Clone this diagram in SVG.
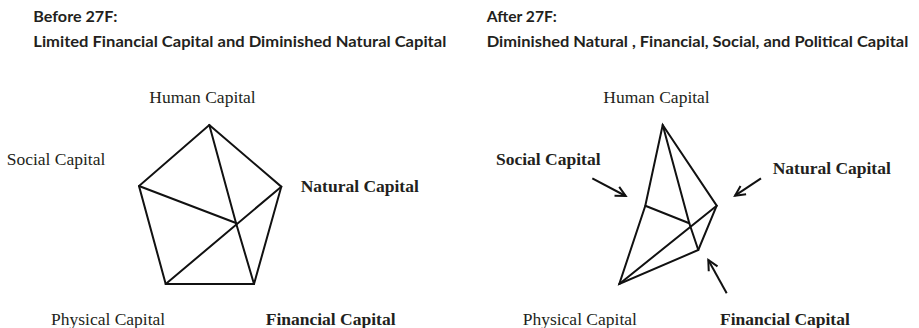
<svg xmlns="http://www.w3.org/2000/svg" width="919" height="328" viewBox="0 0 919 328">
  <style>
    .title { font-family: Lato, "Liberation Sans", sans-serif; font-weight: 700; font-size: 15px; fill: #231f20; }
    .lbl { font-family: "Liberation Serif", "Times New Roman", serif; font-size: 17.5px; fill: #231f20; }
    .b { font-weight: 700; }
    .shape { fill: none; stroke: #111; stroke-width: 2; stroke-linejoin: miter; stroke-linecap: round; }
    .arrow { fill: none; stroke: #111; stroke-width: 2; marker-end: url(#vhead); }
  </style>
  <defs>
    <marker id="vhead" markerUnits="userSpaceOnUse" markerWidth="14" markerHeight="14" refX="0" refY="0" viewBox="-12 -7 14 14" orient="auto" overflow="visible">
      <path d="M -10 -5 L 0 0 L -10 5" fill="none" stroke="#111" stroke-width="2"/>
    </marker>
  </defs>
  <rect width="919" height="328" fill="#fff"/>

  <g id="title-before">
    <text class="title" x="33.3" y="21.7" textLength="84" lengthAdjust="spacingAndGlyphs">Before 27F:</text>
    <text class="title" x="33.3" y="46.7" textLength="413" lengthAdjust="spacingAndGlyphs">Limited Financial Capital and Diminished Natural Capital</text>
  </g>
  <g id="title-after">
    <text class="title" x="486.7" y="21.7" textLength="70" lengthAdjust="spacingAndGlyphs">After 27F:</text>
    <text class="title" x="486.7" y="46.7" textLength="421.6" lengthAdjust="spacingAndGlyphs">Diminished Natural , Financial, Social, and Political Capital</text>
  </g>

  <g id="before-shape">
    <polygon class="shape" points="209.3,125 281.3,186.7 254,284 165.7,284 139,186"/>
    <polyline class="shape" points="209.3,125 236,223 254,284"/>
    <polyline class="shape" points="139,186 236,223"/>
    <polyline class="shape" points="281.3,186.7 165.7,284"/>
  </g>
  <g id="before-human"><text class="lbl" x="149.3" y="102.7">Human Capital</text></g>
  <g id="before-social"><text class="lbl" x="6.7" y="165">Social Capital</text></g>
  <g id="before-natural"><text class="lbl b" x="300.7" y="191.7">Natural Capital</text></g>
  <g id="before-physical"><text class="lbl" x="51" y="325">Physical Capital</text></g>
  <g id="before-financial"><text class="lbl b" x="265.7" y="325">Financial Capital</text></g>

  <g id="after-shape">
    <polygon class="shape" points="662.7,125 716.7,205.7 698.3,250 619.3,284 645.3,205.7"/>
    <polyline class="shape" points="662.7,125 689.3,223.3 698.3,250"/>
    <polyline class="shape" points="645.3,205.7 689.3,223.3"/>
    <polyline class="shape" points="716.7,205.7 619.3,284"/>
  </g>
  <g id="after-human"><text class="lbl" x="603.3" y="102.7">Human Capital</text></g>
  <g id="after-social"><text class="lbl b" x="496" y="165">Social Capital</text></g>
  <g id="after-natural"><text class="lbl b" x="772.7" y="174.3">Natural Capital</text></g>
  <g id="after-physical"><text class="lbl" x="522.7" y="325">Physical Capital</text></g>
  <g id="after-financial"><text class="lbl b" x="720" y="325">Financial Capital</text></g>

  <g id="connectors">
    <line class="arrow" x1="592.3" y1="178.3" x2="625.7" y2="196"/>
    <line class="arrow" x1="761" y1="178.3" x2="735" y2="195.7"/>
    <line class="arrow" x1="726.7" y1="293.3" x2="708.3" y2="260"/>
  </g>
</svg>
